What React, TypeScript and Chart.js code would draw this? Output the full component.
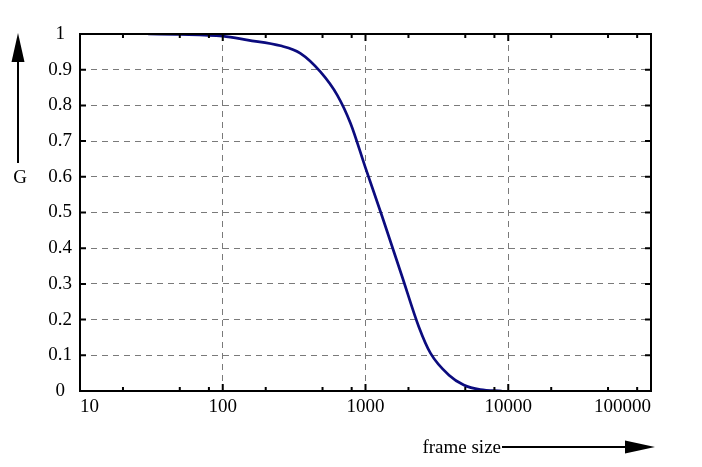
import React, { useEffect, useRef } from 'react';
import { Chart, registerables } from 'chart.js';

Chart.register(...registerables);

// values
const frameSizes = [30, 50, 100, 150, 255, 350, 484, 634, 785, 1000, 1310, 1807, 2362, 2851, 3828, 4880, 6370, 9000];
const gValues = [1.0, 0.999, 0.994, 0.983, 0.967, 0.946, 0.894, 0.829, 0.75, 0.625, 0.488, 0.32, 0.18, 0.106, 0.045, 0.017, 0.004, 0.0];

const xMajorTicks = [10, 100, 1000, 10000, 100000];
const xMinorTicks = [20, 50, 80, 200, 500, 800, 2000, 5000, 8000, 20000, 50000, 80000];
const yTicks = [0, 0.1, 0.2, 0.3, 0.4, 0.5, 0.6, 0.7, 0.8, 0.9, 1];

const yLabel = 'G';
const xLabel = 'frame size';

const FONT = '"Liberation Serif", "Times New Roman", serif';

// frame with inward ticks, plus the arrow labels
const framePlugin = {
  id: 'frame',
  afterDraw(chart: any) {
    const { ctx, chartArea } = chart;
    const { left, right, top, bottom } = chartArea;
    const xs = chart.scales.x;
    const ys = chart.scales.y;
    ctx.save();
    ctx.strokeStyle = '#000';
    ctx.lineWidth = 2;
    ctx.setLineDash([]);
    ctx.strokeRect(left, top, right - left, bottom - top);

    ctx.beginPath();
    yTicks.forEach(v => {
      const y = ys.getPixelForValue(v);
      ctx.moveTo(left, y);
      ctx.lineTo(left + 6, y);
      ctx.moveTo(right, y);
      ctx.lineTo(right - 6, y);
    });
    xMajorTicks.forEach(v => {
      const x = xs.getPixelForValue(v);
      ctx.moveTo(x, bottom);
      ctx.lineTo(x, bottom - 7);
      ctx.moveTo(x, top);
      ctx.lineTo(x, top + 7);
    });
    xMinorTicks.forEach(v => {
      const x = xs.getPixelForValue(v);
      ctx.moveTo(x, bottom);
      ctx.lineTo(x, bottom - 4);
      ctx.moveTo(x, top);
      ctx.lineTo(x, top + 4);
    });
    ctx.stroke();

    // vertical arrow + G
    ctx.lineWidth = 2;
    ctx.beginPath();
    ctx.moveTo(18, 163);
    ctx.lineTo(18, 55);
    ctx.stroke();
    ctx.fillStyle = '#000';
    ctx.beginPath();
    ctx.moveTo(18, 33);
    ctx.lineTo(24.5, 62);
    ctx.lineTo(11.5, 62);
    ctx.closePath();
    ctx.fill();

    ctx.font = `19px ${FONT}`;
    ctx.textAlign = 'center';
    ctx.textBaseline = 'middle';
    ctx.fillText(yLabel, 20, 178);

    // horizontal arrow + frame size
    ctx.textAlign = 'right';
    ctx.textBaseline = 'alphabetic';
    ctx.fillText(xLabel, 501, 453);
    ctx.beginPath();
    ctx.moveTo(502, 447);
    ctx.lineTo(630, 447);
    ctx.stroke();
    ctx.beginPath();
    ctx.moveTo(655, 447);
    ctx.lineTo(625, 440.5);
    ctx.lineTo(625, 453.5);
    ctx.closePath();
    ctx.fill();
    ctx.restore();
  },
};

const App: React.FC = () => {
  const canvasRef = useRef<HTMLCanvasElement>(null);

  useEffect(() => {
    if (!canvasRef.current) return;
    const ctx = canvasRef.current.getContext('2d');
    if (!ctx) return;

    const chart = new Chart(ctx, {
      type: 'line',
      data: {
        datasets: [
          {
            data: frameSizes.map((x, i) => ({ x, y: gValues[i] })),
            borderColor: '#0b0b7e',
            borderWidth: 2.7,
            pointRadius: 0,
            fill: false,
            cubicInterpolationMode: 'monotone',
          },
        ],
      },
      options: {
        responsive: false,
        animation: false,
        layout: { padding: { left: 0, top: 34, right: 51, bottom: 0 } },
        plugins: {
          legend: { display: false },
          tooltip: { enabled: false },
        },
        scales: {
          x: {
            type: 'logarithmic',
            min: 10,
            max: 100000,
            afterBuildTicks: (scale: any) => {
              scale.ticks = xMajorTicks.map(value => ({ value }));
            },
            afterFit: (scale: any) => {
              scale.height = 76;
            },
            ticks: {
              align: 'inner',
              padding: 5,
              color: '#000',
              font: { family: FONT, size: 19 },
              callback: (v: any) => String(v),
            },
            grid: { color: '#7a7a7a', lineWidth: 1, drawTicks: false },
            border: { display: false, dash: [6, 5] },
          },
          y: {
            min: 0,
            max: 1,
            afterBuildTicks: (scale: any) => {
              scale.ticks = yTicks.map(value => ({ value }));
            },
            afterFit: (scale: any) => {
              scale.width = 80;
            },
            ticks: {
              crossAlign: 'center',
              padding: 8,
              color: '#000',
              font: { family: FONT, size: 19 },
              callback: (v: any) => String(Number(Number(v).toFixed(1))),
            },
            grid: { color: '#7a7a7a', lineWidth: 1, drawTicks: false },
            border: { display: false, dash: [6, 5] },
          },
        },
      },
      plugins: [framePlugin],
    });

    return () => {
      chart.destroy();
    };
  }, []);

  return (
    <div style={{ position: 'absolute', left: 0, top: 0, width: 702, height: 467, background: '#fff' }}>
      <canvas ref={canvasRef} width={702} height={467} />
    </div>
  );
};

export default App;
